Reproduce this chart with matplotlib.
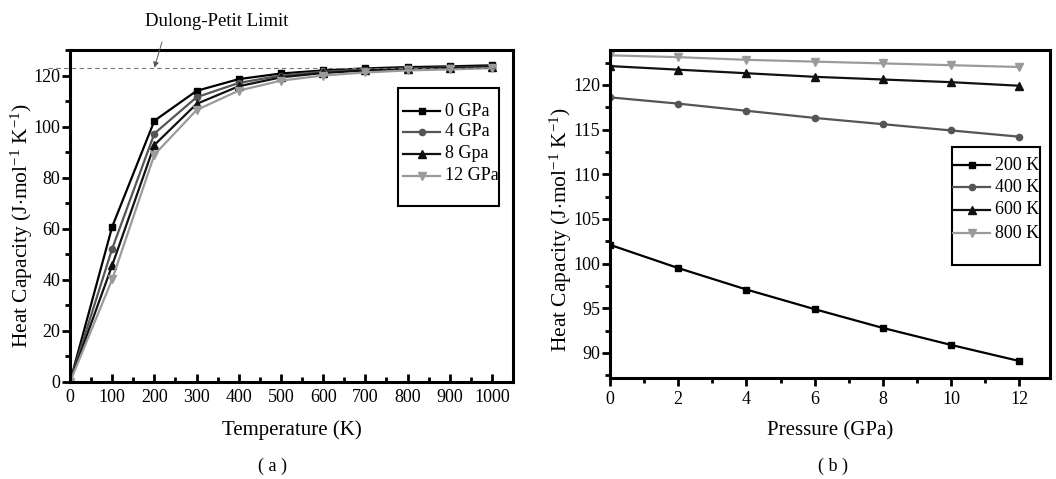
import numpy as np
import matplotlib
matplotlib.use("Agg")
import matplotlib.pyplot as plt
from matplotlib.ticker import MultipleLocator
from matplotlib.lines import Line2D
from matplotlib.patches import Rectangle

plt.rcParams['font.family'] = ['Liberation Serif', 'DejaVu Serif']
plt.rcParams['mathtext.fontset'] = 'custom'
plt.rcParams['mathtext.rm'] = 'Liberation Serif'
plt.rcParams['mathtext.it'] = 'Liberation Serif:italic'

# (a) heat capacity vs temperature
temps = [0, 100, 200, 300, 400, 500, 600, 700, 800, 900, 1000]
cv_0gpa = [0, 60.8, 102.3, 114.0, 118.6, 120.8, 122.0, 122.8, 123.3, 123.6, 124.0]
cv_4gpa = [0, 52.2, 97.3, 111.5, 117.1, 120.0, 121.5, 122.3, 122.8, 123.2, 123.5]
cv_8gpa = [0, 45.7, 92.8, 108.9, 115.8, 119.3, 121.0, 122.0, 122.6, 123.0, 123.3]
cv_12gpa = [0, 40.2, 89.0, 106.5, 114.1, 118.0, 120.0, 121.2, 122.0, 122.4, 122.9]
labels_a = ['0 GPa', '4 GPa', '8 Gpa', '12 GPa']
dulong_petit = 123.1

# (b) heat capacity vs pressure
press = [0, 2, 4, 6, 8, 10, 12]
cv_200k = [102.1, 99.5, 97.1, 94.9, 92.8, 90.9, 89.1]
cv_400k = [118.6, 117.9, 117.1, 116.3, 115.6, 114.9, 114.2]
cv_600k = [122.1, 121.7, 121.3, 120.9, 120.6, 120.3, 119.9]
cv_800k = [123.3, 123.1, 122.8, 122.6, 122.4, 122.2, 122.0]
labels_b = ['200 K', '400 K', '600 K', '800 K']

colors = ['black', '#555555', '#111111', '#9a9a9a']
markers = ['s', 'o', '^', 'v']
msizes = [4, 4.5, 6, 6]

W, H = 1056, 479
fig = plt.figure(figsize=(W / 100, H / 100), dpi=100)

def px_axes(x0, y0, x1, y1):
    # pixel box (top-left origin) -> figure fraction
    return fig.add_axes([x0 / W, (H - y1) / H, (x1 - x0) / W, (y1 - y0) / H])

def style(ax, xin):
    for s in ax.spines.values():
        s.set_linewidth(2.2)
    ax.tick_params(axis='x', which='both', direction='in' if xin else 'out',
                   width=2, labelsize=13, pad=5 if xin else 3)
    ax.tick_params(axis='y', which='both', direction='out', width=2,
                   labelsize=13, pad=1)
    ax.tick_params(which='major', length=6)
    ax.tick_params(which='minor', length=3.5)

def legend_box(ax, labels, x0, y0, x1, y1, ys, hx0, hx1, tx):
    # frame and entries placed in figure pixels
    fig.patches.append(Rectangle((x0 / W, (H - y1) / H), (x1 - x0) / W, (y1 - y0) / H,
                                 transform=fig.transFigure, fill=False,
                                 edgecolor='black', linewidth=1.5))
    for lab, yy, c, m, ms in zip(labels, ys, colors, markers, msizes):
        fy = (H - yy) / H
        fig.lines.append(Line2D([hx0 / W, hx1 / W], [fy, fy], transform=fig.transFigure,
                                color=c, linewidth=1.6))
        fig.lines.append(Line2D([(hx0 + hx1) / 2 / W], [fy], transform=fig.transFigure,
                                color=c, marker=m, markersize=ms, linestyle='none'))
        fig.text(tx / W, fy, lab, fontsize=13, va='center', ha='left')

ylab = 'Heat Capacity (J$\\cdot$mol$^{-1}$ K$^{-1}$)'

# ---- panel (a)
ax1 = px_axes(70, 50, 513, 382)
for ys, c, m, ms in zip([cv_0gpa, cv_4gpa, cv_8gpa, cv_12gpa], colors, markers, msizes):
    ax1.plot(temps, ys, color=c, marker=m, markersize=ms, linewidth=1.6)
ax1.set_xlim(0, 1050)
ax1.set_ylim(0, 130)
ax1.xaxis.set_major_locator(MultipleLocator(100))
ax1.xaxis.set_minor_locator(MultipleLocator(50))
ax1.yaxis.set_major_locator(MultipleLocator(20))
ax1.yaxis.set_minor_locator(MultipleLocator(10))
style(ax1, True)
ax1.set_xlabel('Temperature (K)', fontsize=15, labelpad=10)
ax1.set_ylabel(ylab, fontsize=15.5)
ax1.yaxis.set_label_coords(-0.079, 0.473)
ax1.plot([-52, 1012], [dulong_petit, dulong_petit], color='#777777', linewidth=0.8,
         linestyle=(0, (4, 3)), clip_on=False)
ax1.annotate('', xy=(200, dulong_petit), xytext=(162, H - 42), textcoords='figure pixels',
             arrowprops=dict(arrowstyle='-|>', color='#555555', lw=0.7,
                             mutation_scale=8, shrinkA=0, shrinkB=0))
fig.text(217 / W, (H - 22) / H, 'Dulong-Petit Limit', fontsize=13.5, ha='center', va='center')
legend_box(ax1, labels_a, 398, 88, 499, 206, [111, 132, 154, 176], 403, 440, 445)
fig.text(272 / W, (H - 466) / H, '( a )', fontsize=13, ha='center', va='center')

# ---- panel (b)
ax2 = px_axes(610, 50, 1050, 378)
for ys, c, m, ms in zip([cv_200k, cv_400k, cv_600k, cv_800k], colors, markers, msizes):
    ax2.plot(press, ys, color=c, marker=m, markersize=ms, linewidth=1.6)
ax2.set_xlim(0, 12.9)
ax2.set_ylim(87.2, 123.9)
ax2.xaxis.set_major_locator(MultipleLocator(2))
ax2.xaxis.set_minor_locator(MultipleLocator(1))
ax2.yaxis.set_major_locator(MultipleLocator(5))
ax2.yaxis.set_minor_locator(MultipleLocator(2.5))
style(ax2, False)
ax2.set_xlabel('Pressure (GPa)', fontsize=15, labelpad=10)
ax2.set_ylabel(ylab, fontsize=15.5)
ax2.yaxis.set_label_coords(-0.082, 0.454)
legend_box(ax2, labels_b, 952, 147, 1040, 265, [165, 187, 210, 233], 953, 990, 995)
fig.text(833 / W, (H - 466) / H, '( b )', fontsize=13, ha='center', va='center')

fig.savefig('out.png', dpi=100)
